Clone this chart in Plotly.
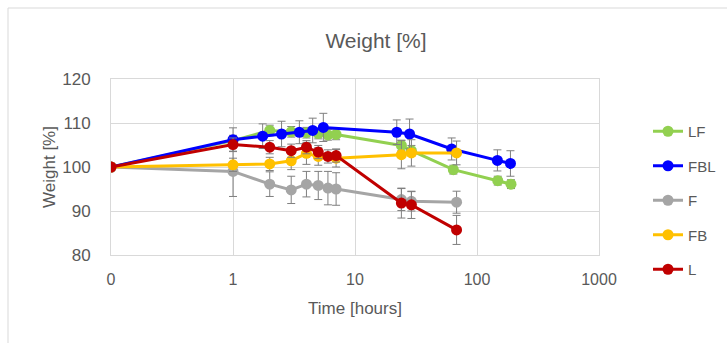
import plotly.graph_objects as go

# time 0 is plotted at 0.1 on the log axis (labelled "0")
t_LF = [0.1, 1, 2, 3, 4, 5, 6, 7, 24, 29, 64, 148, 190]
w_LF = [100, 106.0, 108.3, 108.0, 107.8, 107.6, 107.3, 107.4, 104.9, 103.7, 99.4, 96.9, 96.1]
e_LF = [0, 1.2, 1.2, 1.2, 1.2, 1.2, 1.2, 1.2, 1.2, 1.2, 1.0, 1.0, 1.0]

t_FBL = [0.1, 1, 1.75, 2.5, 3.5, 4.5, 5.5, 22, 28, 62, 147, 188]
w_FBL = [100, 106.2, 107.0, 107.5, 107.9, 108.3, 109.0, 107.9, 107.5, 104.1, 101.5, 100.8]
e_FBL = [0, 2.7, 2.8, 2.9, 2.6, 2.8, 3.2, 2.8, 3.4, 2.5, 2.4, 2.9]

t_F = [0.1, 1, 2, 3, 4, 5, 6, 7, 24, 29, 68]
w_F = [100, 99.0, 96.1, 94.8, 96.1, 95.8, 95.2, 95.0, 92.6, 92.2, 92.0]
e_F = [0, 5.7, 2.8, 3.1, 2.9, 3.2, 3.8, 3.7, 2.5, 2.2, 2.5]

t_FB = [0.1, 1, 2, 3, 4, 5, 7, 24, 29, 68]
w_FB = [100, 100.5, 100.7, 101.4, 103.1, 102.4, 102.0, 102.8, 103.2, 103.2]
e_FB = [0, 1.5, 1.5, 2.0, 2.5, 2.0, 2.0, 3.2, 3.0, 2.7]

t_L = [0.1, 1, 2, 3, 4, 5, 6, 7, 24, 29, 68]
w_L = [100, 105.1, 104.5, 103.7, 104.5, 103.4, 102.4, 102.6, 91.8, 91.4, 85.7]
e_L = [0, 1.5, 1.5, 1.5, 1.5, 1.5, 1.5, 1.5, 3.4, 3.1, 3.3]

x_tickvals = [0.1, 1, 10, 100, 1000]
x_ticktext = ["0", "1", "10", "100", "1000"]
y_tickvals = [80, 90, 100, 110, 120]

series = [
    ("LF", t_LF, w_LF, e_LF, "#92D050"),
    ("FBL", t_FBL, w_FBL, e_FBL, "#0000FF"),
    ("F", t_F, w_F, e_F, "#A5A5A5"),
    ("FB", t_FB, w_FB, e_FB, "#FFC000"),
    ("L", t_L, w_L, e_L, "#C00000"),
]

FONT = "Liberation Sans"
TXT = "#595959"
GRID = "#D9D9D9"

fig = go.Figure()
for name, t, w, e, c in series:
    fig.add_trace(go.Scatter(
        x=t, y=w, name=name, mode="lines+markers", legendgroup=name,
        line=dict(color=c, width=3),
        marker=dict(color=c, size=11),
        error_y=dict(type="data", array=e, visible=True, color="#7F7F7F",
                     thickness=1, width=4),
    ))

fig.update_layout(
    width=727, height=343,
    margin=dict(l=111, r=128, t=79, b=88, autoexpand=False),
    paper_bgcolor="white", plot_bgcolor="white",
    font=dict(family=FONT, color=TXT, size=16),
    title=dict(text="Weight [%]", x=376/727, xref="container", xanchor="center",
               y=1 - 41/343, yref="container", yanchor="middle",
               font=dict(size=21, color=TXT, family=FONT)),
    showlegend=True,
    legend=dict(x=1 + (648 - 599) / 488, xref="paper", y=(255 - 115) / 176, yref="paper",
                yanchor="top", xanchor="left", tracegroupgap=12,
                font=dict(size=15, color=TXT), bgcolor="rgba(0,0,0,0)"),
    shapes=[dict(type="rect", xref="paper", yref="paper",
                 x0=(8 - 111) / 488, x1=2.0, y0=-2.0, y1=(255 - 8) / 176,
                 line=dict(color=GRID, width=1), layer="below")],
)
fig.update_xaxes(type="log", range=[-1, 3], tickvals=x_tickvals, ticktext=x_ticktext,
                 showgrid=True, gridcolor=GRID, gridwidth=1,
                 showline=True, linecolor=GRID, linewidth=1, mirror=True,
                 ticks="", zeroline=False, ticklabelstandoff=10, automargin=False,
                 title=dict(text="Time [hours]", font=dict(size=17, color=TXT), standoff=14),
                 tickfont=dict(size=16, color=TXT))
fig.update_yaxes(range=[80, 120], tickvals=y_tickvals,
                 showgrid=True, gridcolor=GRID, gridwidth=1,
                 showline=True, linecolor=GRID, linewidth=1, mirror=True,
                 ticks="", zeroline=False, ticklabelstandoff=16, automargin=False,
                 title=dict(text="Weight [%]", font=dict(size=17, color=TXT), standoff=2),
                 tickfont=dict(size=17, color=TXT))

fig.write_html("out.html")
